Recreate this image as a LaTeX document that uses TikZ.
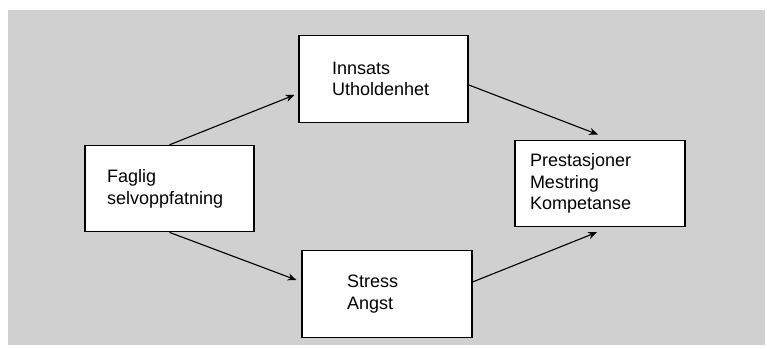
\documentclass[tikz,border=0pt]{standalone}
\usepackage{fontspec}
\setmainfont{Liberation Sans}
\usetikzlibrary{arrows.meta}
\definecolor{paper}{RGB}{208,208,208}
\begin{document}
\begin{tikzpicture}[>={Stealth[length=2.2mm,width=1.8mm]},
  factor/.style={rectangle,draw,line width=.9pt,fill=white,minimum height=2.16cm,align=left},
  link/.style={->,line width=.8pt},
  every node/.style={font=\fontsize{12.8}{15.4}\selectfont}]
\useasboundingbox (0,0) rectangle (19.175,8.725);
\fill[paper] (.2,.1) rectangle (19.125,8.475);
\node[factor,inner xsep=.55cm,text width=3.125cm] (fag) at (4.24,4.01) {Faglig\\selvoppfatning};
\node[factor,inner xsep=.825cm,text width=2.575cm] (inn) at (9.59,6.75) {Innsats\\Utholdenhet};
\node[factor,inner xsep=1.125cm,text width=2cm] (str) at (9.675,1.375) {Stress\\Angst};
\node[factor,inner xsep=.375cm,text width=3.5cm] (pre) at (15,4.14) {Prestasjoner\\Mestring\\Kompetanse};
\draw[link] (fag.north) -- ([xshift=-1mm,yshift=-4mm]inn.west);
\draw[link] (inn.-4) -- ([xshift=-.5mm,yshift=1.25mm]pre.north);
\draw[link] (fag.south) -- ([xshift=-1.25mm,yshift=3.5mm]str.west);
\draw[link] (str.8) -- ([xshift=-.75mm,yshift=-1.25mm]pre.south);
\end{tikzpicture}
\end{document}
